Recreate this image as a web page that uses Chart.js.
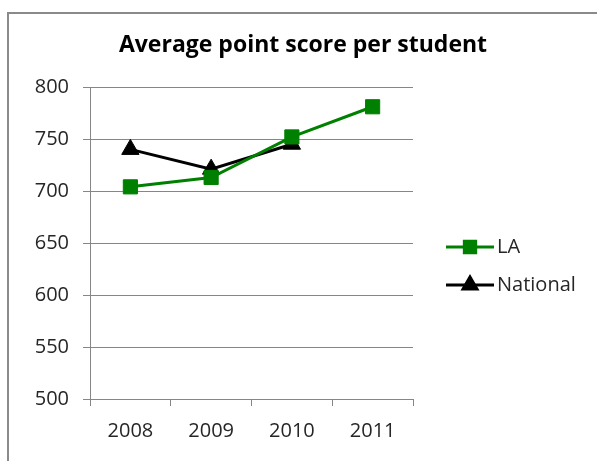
<!DOCTYPE html>
<html>
<head>
<meta charset="utf-8">
<script src="https://cdn.jsdelivr.net/npm/chart.js@4"></script>
<style>
  html, body { margin: 0; padding: 0; background: #fff; }
  #wrap { position: relative; width: 597px; height: 461px; overflow: hidden; }
  /* grey chart frame, cropped at the right and bottom like the picture */
  #frame { position: absolute; left: 7px; top: 12px; width: 700px; height: 600px;
           border: 2px solid #8a8a8a; box-sizing: border-box; }
  canvas { position: absolute; left: 0; top: 0; }
</style>
</head>
<body>
<div id="wrap">
  <div id="frame"></div>
  <canvas id="chart" width="597" height="461"></canvas>
</div>
<script>
// Data
const years    = ['2008', '2009', '2010', '2011'];
const la       = [704, 713, 752, 781];
const national = [740, 721, 745, null];
const yTicks   = [500, 550, 600, 650, 700, 750, 800];

const TITLE = 'Average point score per student';
const FONT = '"Open Sans", "Liberation Sans", sans-serif';
const GRID = '#868686';
const TEXT = '#262626';

// Title + legend (line sample with marker, like Excel)
const extras = {
  id: 'extras',
  afterDraw(chart) {
    const ctx = chart.ctx;
    ctx.save();
    ctx.fillStyle = '#000';
    ctx.font = 'bold 23px ' + FONT;
    ctx.textAlign = 'center';
    ctx.textBaseline = 'middle';
    ctx.fillText(TITLE, 303, 45);

    const rows = [247, 285];
    chart.data.datasets.forEach((ds, i) => {
      const y = rows[i];
      ctx.strokeStyle = ds.borderColor;
      ctx.lineWidth = 3;
      ctx.beginPath();
      ctx.moveTo(446, y);
      ctx.lineTo(494, y);
      ctx.stroke();
      Chart.helpers.drawPoint(ctx, {
        pointStyle: ds.pointStyle, radius: ds.pointRadius * 0.8, borderWidth: 1
      }, 470, y);
      ctx.fillStyle = ds.pointBackgroundColor;
      ctx.strokeStyle = ds.pointBorderColor;
      ctx.fill();
      ctx.fillStyle = TEXT;
      ctx.font = '20px ' + FONT;
      ctx.textAlign = 'left';
      ctx.fillText(ds.label, 497, y);
    });
    ctx.restore();
  }
};

new Chart(document.getElementById('chart'), {
  type: 'line',
  data: {
    labels: years,
    datasets: [
      {
        label: 'LA',
        data: la,
        borderColor: '#008000',
        backgroundColor: '#008000',
        pointBackgroundColor: '#008000',
        pointBorderColor: '#008000',
        pointStyle: 'rect',
        pointRadius: 10,
        borderWidth: 3,
        pointBorderWidth: 1,
        tension: 0,
      },
      {
        label: 'National',
        data: national,
        borderColor: '#000000',
        backgroundColor: '#000000',
        pointBackgroundColor: '#000000',
        pointBorderColor: '#000000',
        pointStyle: 'triangle',
        pointRadius: 10,
        borderWidth: 3,
        pointBorderWidth: 1,
        tension: 0,
      },
    ],
  },
  options: {
    responsive: false,
    animation: false,
    layout: { padding: { top: 87, right: 184, left: 0, bottom: 0 } },
    plugins: {
      legend: { display: false },
      title: { display: false },
      tooltip: { enabled: false },
    },
    scales: {
      x: {
        offset: true,
        afterFit: (s) => { s.height = 62; },
        grid: { offset: true, drawOnChartArea: false, drawTicks: true, tickLength: 7, color: GRID, lineWidth: 1 },
        border: { color: GRID, width: 1 },
        ticks: { color: TEXT, font: { family: FONT, size: 20 }, padding: 13, maxRotation: 0 },
      },
      y: {
        min: 500,
        max: 800,
        afterFit: (s) => { s.width = 90; },
        afterBuildTicks: (s) => { s.ticks = yTicks.map((v) => ({ value: v })); },
        grid: { color: GRID, tickLength: 7, lineWidth: 1 },
        border: { color: GRID, width: 1 },
        ticks: { color: TEXT, font: { family: FONT, size: 20 }, padding: 14 },
      },
    },
  },
  plugins: [extras],
});
</script>
</body>
</html>
